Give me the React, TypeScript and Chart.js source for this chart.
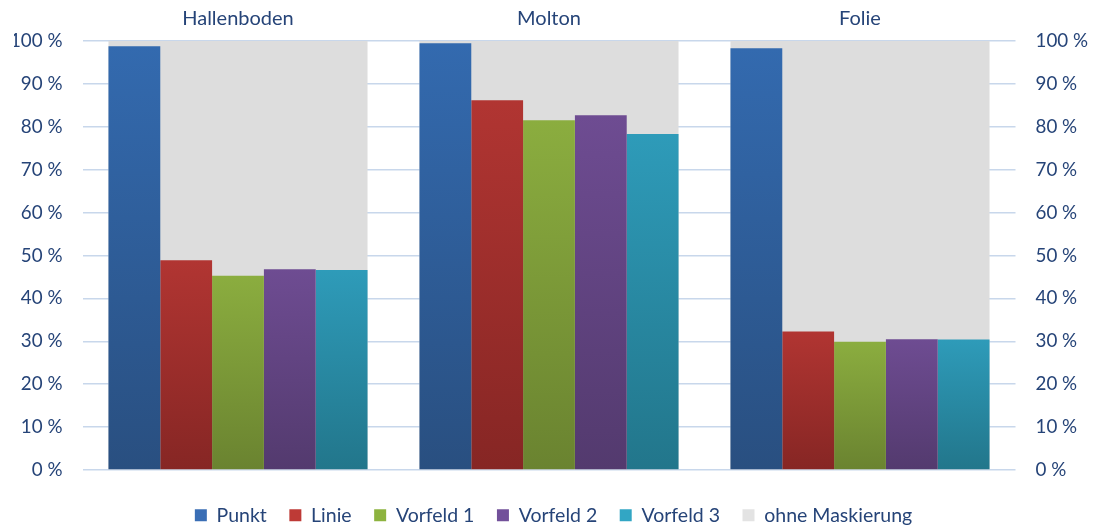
import React, { useEffect, useRef } from "react";
import { Chart, registerables } from "chart.js";

Chart.register(...registerables);

const categories = ["Hallenboden", "Molton", "Folie"];
const punkt = [98.8, 99.5, 98.3];
const linie = [48.9, 86.2, 32.3];
const vorfeld1 = [45.3, 81.5, 29.9];
const vorfeld2 = [46.8, 82.7, 30.5];
const vorfeld3 = [46.6, 78.3, 30.4];
const ohneMaskierung = [100, 100, 100];
const yTicks = [0, 10, 20, 30, 40, 50, 60, 70, 80, 90, 100];

const FONT = "Lato";
const TEXT = "#264478";

function gradientFill(top: string, bottom: string) {
  return (ctx: any) => {
    const chart = ctx.chart;
    const area = chart.chartArea;
    if (!area || ctx.type !== "data") return top;
    const yScale = chart.scales.y;
    const v = ctx.raw as number;
    const yTop = yScale.getPixelForValue(v);
    const yBot = yScale.getPixelForValue(0);
    const g = chart.ctx.createLinearGradient(0, yTop, 0, yBot);
    g.addColorStop(0, top);
    g.addColorStop(1, bottom);
    return g;
  };
}

export default function App() {
  const ref = useRef<HTMLCanvasElement | null>(null);
  useEffect(() => {
    document.body.style.margin = "0";
    if (!ref.current) return;
    const catPct = 0.833;
    const mk = (label: string, data: number[], top: string, bottom: string, legendColor: string) => ({
      label,
      data,
      backgroundColor: gradientFill(top, bottom),
      legendColor,
      xAxisID: "x",
      yAxisID: "y",
      barPercentage: 1,
      categoryPercentage: catPct,
      order: 0,
    });
    const datasets: any[] = [
      mk("Punkt", punkt, "#336AAF", "#294F80", "#3A6EB5"),
      mk("Linie", linie, "#B13532", "#862624", "#BE3A36"),
      mk("Vorfeld 1", vorfeld1, "#8BAD3F", "#6A8330", "#8DB33F"),
      mk("Vorfeld 2", vorfeld2, "#6E4C92", "#533A6E", "#72509A"),
      mk("Vorfeld 3", vorfeld3, "#2E9BB9", "#22768B", "#32A6C4"),
      {
        label: "ohne Maskierung",
        data: ohneMaskierung,
        backgroundColor: "#DDDDDD",
        legendColor: "#E3E3E3",
        xAxisID: "x",
        yAxisID: "y",
        grouped: false,
        barPercentage: 1,
        categoryPercentage: catPct,
        order: 1,
      },
    ];
    const padL = 14;
    const chart = new Chart(ref.current, {
      type: "bar",
      data: { labels: categories, datasets },
      options: {
        animation: false,
        responsive: false,
        maintainAspectRatio: false,
        layout: { padding: { left: padL, right: 0, top: 0, bottom: -7 } },
        plugins: {
          tooltip: { enabled: false },
          title: { display: false },
          legend: {
            position: "bottom",
            labels: {
              boxWidth: 12,
              boxHeight: 12,
              padding: 22.5,
              color: TEXT,
              font: { family: FONT, size: 19.5 },
              generateLabels: (c: any) =>
                c._getSortedDatasetMetas().map((meta: any) => {
                  const ds = c.data.datasets[meta.index];
                  return {
                    text: ds.label,
                    fillStyle: ds.legendColor,
                    strokeStyle: ds.legendColor,
                    lineWidth: 0,
                    hidden: false,
                    datasetIndex: meta.index,
                    fontColor: TEXT,
                  };
                }),
            },
          },
        },
        scales: {
          x: {
            type: "category",
            position: "top",
            grid: { display: false, drawTicks: false },
            border: { display: false },
            ticks: { color: TEXT, font: { family: FONT, size: 20 }, padding: 10 },
            afterFit: (s: any) => {
              s.height = 41;
            },
          },
          x2: {
            type: "category",
            position: "bottom",
            labels: categories,
            grid: { display: false, drawTicks: false },
            border: { display: false },
            ticks: { display: false },
            afterFit: (s: any) => {
              s.height = 13;
            },
          },
          y: {
            position: "left",
            min: 0,
            max: 100,
            afterBuildTicks: (s: any) => {
              s.ticks = yTicks.map((v) => ({ value: v }));
            },
            grid: { color: "#C8D7EB", lineWidth: 1.5, drawTicks: false },
            border: { display: false },
            ticks: {
              color: TEXT,
              font: { family: FONT, size: 18.8 },
              padding: 20,
              callback: (v: any) => v + " %",
            },
            afterFit: (s: any) => {
              s.width = 82.5 - padL;
            },
          },
          y2: {
            position: "right",
            min: 0,
            max: 100,
            afterBuildTicks: (s: any) => {
              s.ticks = yTicks.map((v) => ({ value: v }));
            },
            grid: { drawOnChartArea: false, drawTicks: false },
            border: { display: false },
            ticks: {
              color: TEXT,
              font: { family: FONT, size: 18.8 },
              padding: 20,
              callback: (v: any) => v + " %",
            },
            afterFit: (s: any) => {
              s.width = 77.5;
            },
          },
        },
      } as any,
    });
    return () => chart.destroy();
  }, []);
  return (
    <div style={{ width: 1093, height: 528 }}>
      <canvas ref={ref} width={1093} height={528} style={{ display: "block" }} />
    </div>
  );
}
